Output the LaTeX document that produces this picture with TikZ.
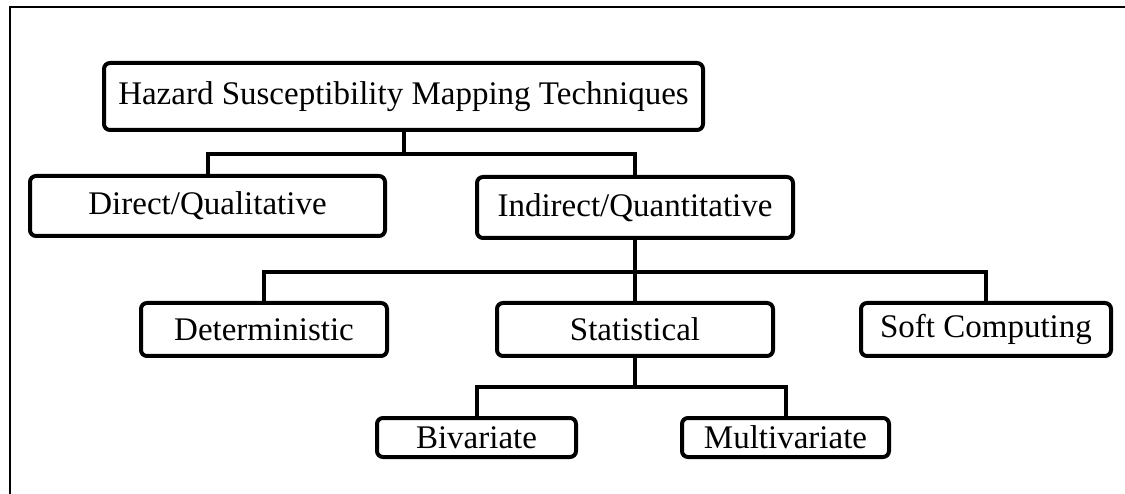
\documentclass[tikz,border=0pt]{standalone}
\usepackage{fontspec}
\setmainfont{Liberation Serif}
\begin{document}
\begin{tikzpicture}[x=1pt,y=-1pt,
  box/.style={draw=black, line width=4pt, rounded corners=6pt, fill=white,
    inner sep=0pt, font=\fontsize{33}{38}\selectfont, text=black},
  link/.style={draw=black, line width=4pt, line join=miter},
  frame/.style={draw=black, line width=2pt}]
\useasboundingbox (0,0) rectangle (1125,494);
% outer frame (top and left edges)
\draw[frame] (1125,7) -- (10,7) -- (10,494);

% level 0
\node[box, minimum width=599pt, minimum height=67pt] (haz) at (403.5,96.5)
  {Hazard Susceptibility Mapping Techniques};
% level 1
\node[box, minimum width=355pt, minimum height=60pt] (dir) at (207.5,206)
  {Direct/Qualitative};
\node[box, minimum width=316pt, minimum height=61pt] (ind) at (635,207.5)
  {Indirect/Quantitative};
% level 2
\node[box, minimum width=246pt, minimum height=53pt] (det) at (264,329.5)
  {Deterministic};
\node[box, minimum width=276pt, minimum height=53pt] (stat) at (635,329.5)
  {Statistical};
\node[box, minimum width=250pt, minimum height=53pt] (soft) at (986,329.5)
  {Soft Computing};
% level 3
\node[box, minimum width=199pt, minimum height=39pt] (biv) at (476.5,437.5)
  {Bivariate};
\node[box, minimum width=207pt, minimum height=39pt] (mul) at (785.5,437.5)
  {Multivariate};

% tree connectors
\coordinate (j1) at (403.5,154);
\coordinate (j2) at (635,272);
\coordinate (j3) at (635,387);
\draw[link] (haz.south) -- (j1);
\draw[link] (j1) -| (dir.north);
\draw[link] (j1) -| (ind.north);
\draw[link] (ind.south) -- (j2);
\draw[link] (j2) -| (det.north);
\draw[link] (j2) -- (stat.north);
\draw[link] (j2) -| (soft.north);
\draw[link] (stat.south) -- (j3);
\draw[link] (j3) -| (biv.north);
\draw[link] (j3) -| (mul.north);
\end{tikzpicture}
\end{document}
